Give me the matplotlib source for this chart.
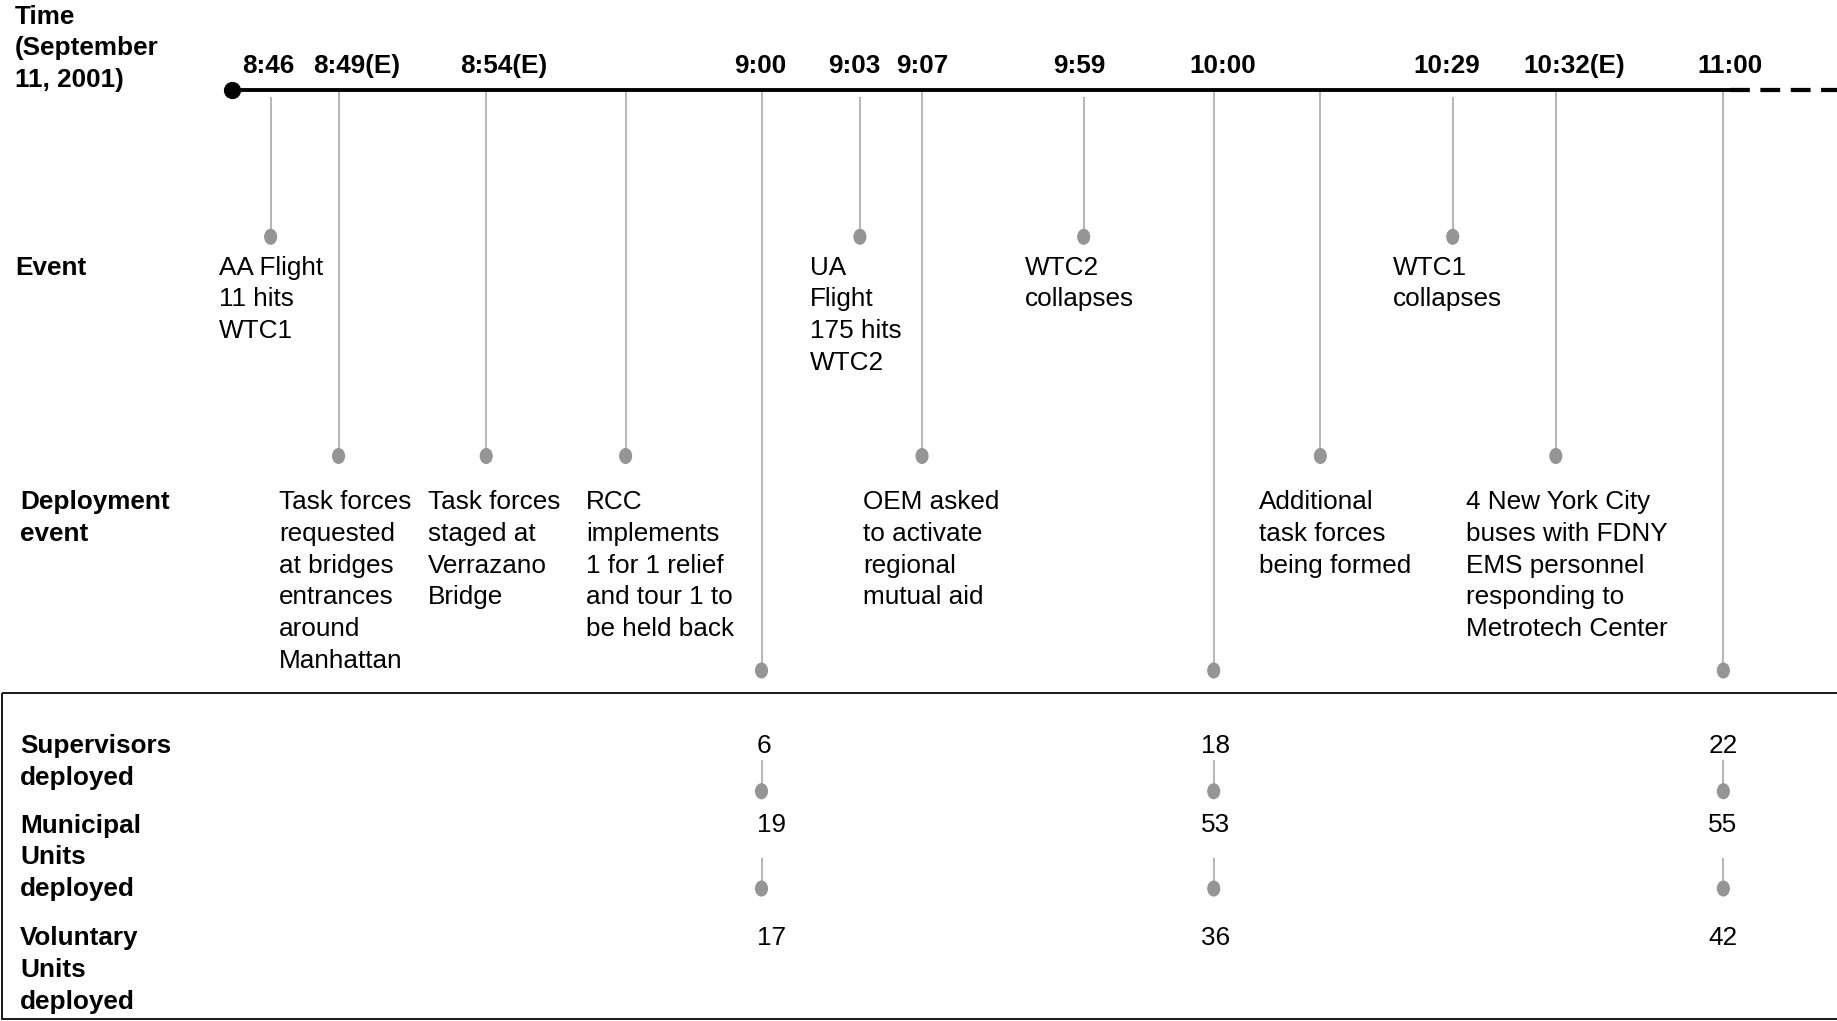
"""FDNY deployment timeline, 11 September 2001."""
import matplotlib
matplotlib.use("Agg")
import matplotlib.pyplot as plt
from matplotlib.patches import Ellipse, Rectangle

plt.rcParams["font.family"] = ["Liberation Sans", "DejaVu Sans"]

# ── layout grid (the sheet is laid out on a 1568 x 871 unit canvas) ─────────
W, H = 1568, 871
LINE_Y = 77
FS = 18.8
LS = 1.41
ASC = 16  # distance from the top of a text line to its baseline
GREY = "#a0a0a0"
DOT = "#959595"

# ── data ───────────────────────────────────────────────────────────────────
time_labels = ["8:46", "8:49(E)", "8:54(E)", "9:00", "9:03", "9:07",
               "9:59", "10:00", "10:29", "10:32(E)", "11:00"]
time_label_x = [229, 304, 430, 649, 729, 787, 921, 1044, 1235, 1344, 1477]

event_texts = ["AA Flight\n11 hits\nWTC1",
               "UA\nFlight\n175 hits\nWTC2",
               "WTC2\ncollapses",
               "WTC1\ncollapses"]
event_stem_x = [231, 734, 925, 1240]
event_text_x = [187, 691, 875, 1189]

deploy_texts = ["Task forces\nrequested\nat bridges\nentrances\naround\nManhattan",
                "Task forces\nstaged at\nVerrazano\nBridge",
                "RCC\nimplements\n1 for 1 relief\nand tour 1 to\nbe held back",
                "OEM asked\nto activate\nregional\nmutual aid",
                "Additional\ntask forces\nbeing formed",
                "4 New York City\nbuses with FDNY\nEMS personnel\nresponding to\nMetrotech Center"]
deploy_stem_x = [289, 415, 534, 787, 1127, 1328]
deploy_text_x = [238, 365, 500, 737, 1075, 1251]

# unit counts at 9:00, 10:00, 11:00
count_stem_x = [650, 1036, 1471]
count_text_x = [646, 1025, 1458]
supervisors = [6, 18, 22]
municipal = [19, 53, 55]
voluntary = [17, 36, 42]

row_labels = ["Time\n(September\n11, 2001)", "Event", "Deployment\nevent",
              "Supervisors\ndeployed", "Municipal\nUnits\ndeployed",
              "Voluntary\nUnits\ndeployed"]
row_label_x = [13, 13, 17, 17, 17, 17]
row_baseline = [20, 234, 434, 642, 710, 806]

# ── figure ─────────────────────────────────────────────────────────────────
fig = plt.figure(figsize=(18.37, 10.21), dpi=100, facecolor="white")
ax = fig.add_axes([0, 0, 1, 1])
ax.set_xlim(0, W)
ax.set_ylim(H, 0)
ax.axis("off")

px = 1837 / W * 0.72  # canvas unit -> points


def stem(x, y0, y1):
    ax.plot([x, x], [y0, y1], color=GREY, lw=1.3 * px, solid_capstyle="butt", zorder=2)
    ax.add_patch(Ellipse((x, y1), 10, 12.5, color=DOT, zorder=3))


def label(x, base, txt, **kw):
    ax.text(x, base - ASC, txt, ha="left", va="top", fontsize=FS,
            linespacing=LS, **kw)


# main time line, dashed past 11:00
ax.plot([198, 1477], [LINE_Y, LINE_Y], color="black", lw=3.3 * px, zorder=4,
        solid_capstyle="butt")
ax.plot([1477, W], [LINE_Y, LINE_Y], color="black", lw=3.6 * px, zorder=4,
        linestyle=(0, (4.7, 2.5)))
ax.plot([198], [LINE_Y], "o", color="black", ms=13.5 * px, zorder=5)

for lab, x in zip(time_labels, time_label_x):
    ax.text(x, 62, lab, ha="center", va="baseline", fontsize=FS, fontweight="bold")

# events
for txt, sx, tx in zip(event_texts, event_stem_x, event_text_x):
    stem(sx, 83, 202)
    label(tx, 234, txt)

# deployment events
for txt, sx, tx in zip(deploy_texts, deploy_stem_x, deploy_text_x):
    stem(sx, LINE_Y, 389)
    label(tx, 434, txt)

# long stems down to the counts box, plus short stems between counts
for sx in count_stem_x:
    stem(sx, LINE_Y, 572)
    stem(sx, 648, 675)
    stem(sx, 732, 758)

for values, base in zip([supervisors, municipal, voluntary], [642, 710, 806]):
    for v, tx in zip(values, count_text_x):
        ax.text(tx, base, str(v), ha="left", va="baseline", fontsize=FS)

# counts box
ax.add_patch(Rectangle((2, 591), W + 20, 278, fill=False, edgecolor="black",
                       lw=1.5 * px, zorder=1))

for lab, x, y in zip(row_labels, row_label_x, row_baseline):
    label(x, y, lab, fontweight="bold")

fig.savefig("out.png", dpi=100, facecolor="white")
